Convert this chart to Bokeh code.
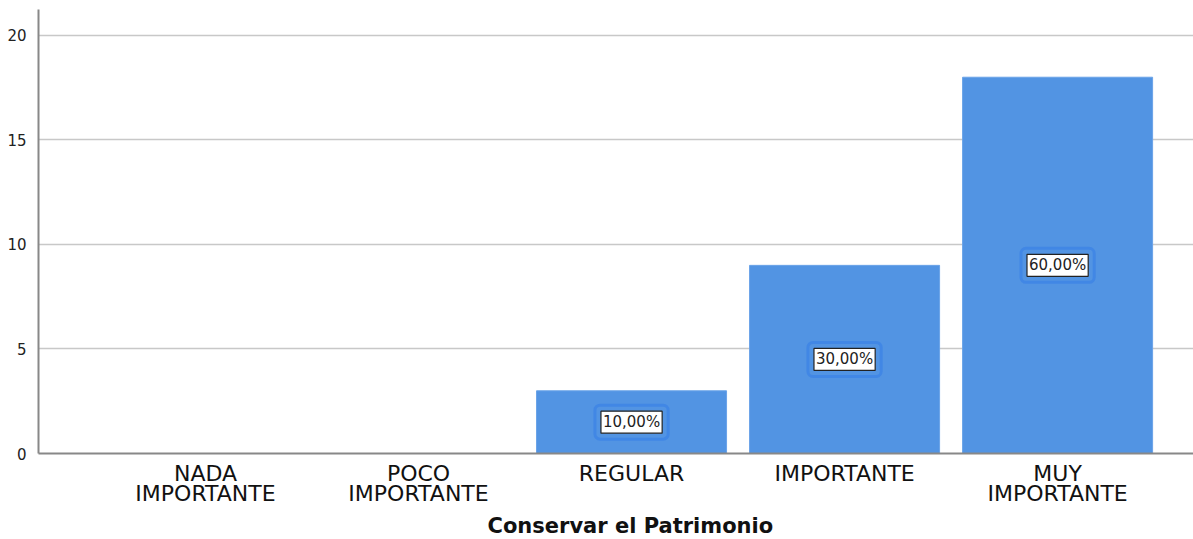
from bokeh.plotting import figure
from bokeh.models import Range1d, FixedTicker, ColumnDataSource, Title
from bokeh.core.properties import value
from bokeh.embed import file_html
from bokeh.resources import INLINE

categories = ["NADA\nIMPORTANTE", "POCO\nIMPORTANTE", "REGULAR", "IMPORTANTE", "MUY\nIMPORTANTE"]
counts = [0, 0, 3, 9, 18]
percent_labels = ["", "", "10,00%", "30,00%", "60,00%"]
y_ticks = [0, 5, 10, 15, 20]

xs = list(range(len(categories)))
bar_idx = [i for i, c in enumerate(counts) if c > 0]
src = ColumnDataSource(dict(
    x=[xs[i] for i in bar_idx],
    top=[counts[i] for i in bar_idx],
    mid=[counts[i] / 2 for i in bar_idx],
    lab=[percent_labels[i] for i in bar_idx],
))

p = figure(width=1193, height=539, output_backend="svg", toolbar_location=None,
           x_range=Range1d(-0.784, 4.638), y_range=Range1d(0, 21.24))
p.min_border_left = 38
p.min_border_right = 0
p.min_border_top = 9
p.min_border_bottom = 86
p.outline_line_color = None
p.background_fill_color = "white"
p.border_fill_color = "white"

p.vbar(x="x", top="top", width=0.892, bottom=0, source=src,
       fill_color="#5294e3", line_color="#6aa3e8", line_width=1)

# glow box
p.text(x="x", y="mid", text="lab", source=src, text_align="center",
       text_baseline="middle", text_font=value("DejaVu Sans"), text_font_size="15px",
       text_alpha=0.0, padding=8, border_line_color="#3b82e6",
       border_line_width=3, border_line_alpha=0.7, border_radius=5,
       background_fill_color=None)
p.text(x="x", y="mid", text="lab", source=src, text_align="center",
       text_baseline="middle", text_font=value("DejaVu Sans"), text_font_size="15px",
       text_color="#222222", padding=2, border_line_color="#222222",
       border_line_width=1.2, background_fill_color="white")

p.xaxis.ticker = FixedTicker(ticks=xs)
p.xaxis.major_label_overrides = {x: c for x, c in zip(xs, categories)}
p.xaxis.major_label_text_font = "DejaVu Sans"
p.xaxis.major_label_text_font_size = "22px"
p.xaxis.major_label_text_color = "#111111"
p.xaxis.major_label_text_line_height = 0.82
p.xaxis.major_label_standoff = 1
p.xaxis.major_tick_line_color = None
p.xaxis.minor_tick_line_color = None
p.xaxis.axis_line_color = "#888888"
p.xaxis.axis_line_width = 2

p.yaxis.ticker = FixedTicker(ticks=y_ticks)
p.yaxis.major_label_text_font = "DejaVu Sans"
p.yaxis.major_label_text_font_size = "15px"
p.yaxis.major_label_text_color = "#222222"
p.yaxis.major_label_standoff = 6
p.yaxis.major_tick_line_color = None
p.yaxis.minor_tick_line_color = None
p.yaxis.axis_line_color = "#888888"
p.yaxis.axis_line_width = 2

p.xgrid.grid_line_color = None
p.ygrid.grid_line_color = "#c8c8c8"
p.ygrid.grid_line_width = 1.5

t = Title(text="Conservar el Patrimonio", align="left", offset=449,
          text_font="DejaVu Sans", text_font_style="bold", text_font_size="21px",
          text_color="#111111", standoff=4)
p.add_layout(t, "below")

open("out.html", "w").write(file_html(p, INLINE))
